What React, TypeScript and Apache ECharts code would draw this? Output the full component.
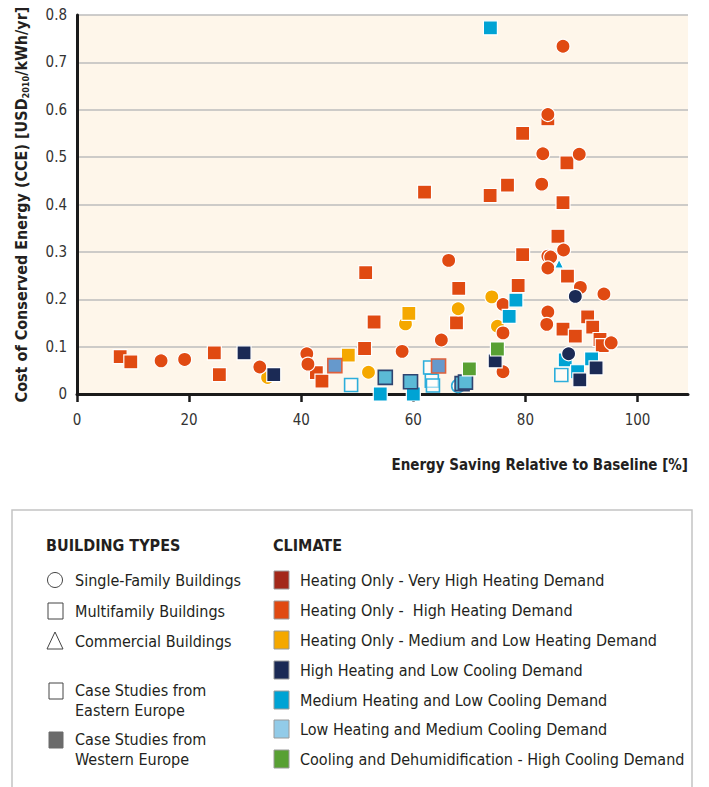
import React, { useEffect, useRef } from "react";
import * as echarts from "echarts";

const FONT = "'Liberation Sans Narrow', 'DejaVu Sans Condensed', 'Open Sans', sans-serif";

// ---- Data (x = energy saving %, y = CCE USD2010/kWh/yr) ----
const highHeatSquares: number[][] = [
  [7.7, 0.079], [9.6, 0.068], [24.5, 0.087], [25.4, 0.041], [42.7, 0.045], [43.7, 0.027],
  [51.3, 0.096], [51.5, 0.256], [53.0, 0.152], [62.0, 0.426], [73.7, 0.419], [76.8, 0.441],
  [67.7, 0.15], [68.1, 0.223], [79.5, 0.55], [84.0, 0.581], [87.4, 0.488], [86.7, 0.404],
  [85.8, 0.333], [79.5, 0.294], [87.5, 0.249], [78.7, 0.229], [86.7, 0.137], [91.1, 0.163],
  [88.9, 0.122], [92.0, 0.141], [93.3, 0.115], [93.7, 0.102],
];
const highHeatCircles: number[][] = [
  [15.0, 0.07], [19.2, 0.073], [32.6, 0.057], [41.0, 0.085], [41.2, 0.063], [58.0, 0.09],
  [65.0, 0.114], [66.3, 0.282], [76.0, 0.189], [76.0, 0.129], [76.0, 0.047], [83.1, 0.507],
  [89.6, 0.506], [82.9, 0.443], [86.7, 0.734], [84.0, 0.59], [86.8, 0.304], [84.0, 0.291],
  [84.5, 0.289], [84.0, 0.266], [89.8, 0.225], [94.0, 0.211], [84.0, 0.173], [83.8, 0.147],
  [95.3, 0.108],
];
const medLowCircles: number[][] = [
  [34.0, 0.035], [52.0, 0.046], [58.6, 0.148], [68.0, 0.18], [74.0, 0.205], [75.0, 0.143],
];
const medLowSquares: number[][] = [[48.4, 0.082], [59.2, 0.17]];
const navySquares: number[][] = [[29.8, 0.087], [35.1, 0.041], [74.6, 0.07], [89.7, 0.03], [92.6, 0.055]];
const navyCircles: number[][] = [[88.9, 0.206], [87.7, 0.085]];
const cyanSquares: number[][] = [
  [73.75, 0.773], [78.3, 0.198], [77.1, 0.164], [54.1, 0.0], [60.0, 0.0], [87.1, 0.072],
  [89.3, 0.047], [91.8, 0.074],
];
const cyanTriangles: number[][] = [[86.0, 0.275]];
const greenSquares: number[][] = [[75.0, 0.095], [70.0, 0.053]];
const lightBlueSquares: number[][] = [[55.0, 0.035], [59.5, 0.026], [68.7, 0.022], [69.3, 0.025]];
const steelBlueSquares: number[][] = [[46.0, 0.06], [64.5, 0.059]];
const easternSquares: number[][] = [[48.9, 0.019], [63.0, 0.056], [63.3, 0.028], [63.5, 0.018], [86.4, 0.04]];
const easternCircles: number[][] = [[68.0, 0.017]];

const xTicks = [0, 20, 40, 60, 80, 100];

const buildingTypes = ["Single-Family Buildings", "Multifamily Buildings", "Commercial Buildings"];
const caseStudies = [["Case Studies from", "Eastern Europe"], ["Case Studies from", "Western Europe"]];
const climates = [
  "Heating Only - Very High Heating Demand",
  "Heating Only -  High Heating Demand",
  "Heating Only - Medium and Low Heating Demand",
  "High Heating and Low Cooling Demand",
  "Medium Heating and Low Cooling Demand",
  "Low Heating and Medium Cooling Demand",
  "Cooling and Dehumidification - High Cooling Demand",
];
const climateColors = ["#A3281A", "#E04A12", "#F5A800", "#1B2A55", "#00A3D4", "#92CBE8", "#58A033"];

function sc(name: string, data: number[][], symbol: string, size: number, color: string, border = "#ffffff", bw = 1.2) {
  return {
    type: "scatter",
    name,
    data,
    symbol,
    symbolSize: size,
    itemStyle: { color, borderColor: border, borderWidth: bw, opacity: 1 },
    emphasis: { disabled: true },
  };
}

export default function App() {
  const ref = useRef<HTMLDivElement>(null);
  useEffect(() => {
    if (!ref.current) return;
    const chart = echarts.init(ref.current, undefined, { renderer: "svg" });
    const textColor = "#231F20";

    const graphics: any[] = [
      {
        type: "text",
        right: 21,
        top: 457,
        style: { text: "Energy Saving Relative to Baseline [%]", font: `bold 15px ${FONT}`, fill: textColor },
      },
      {
        type: "rect",
        shape: { x: 12, y: 510, width: 680, height: 300 },
        style: { fill: "#ffffff", stroke: "#C4C4C4", lineWidth: 1.5 },
        z: 0,
      },
      { type: "text", x: 46, y: 537, style: { text: "BUILDING TYPES", font: `bold 16px ${FONT}`, fill: textColor } },
      { type: "text", x: 273, y: 537, style: { text: "CLIMATE", font: `bold 16px ${FONT}`, fill: textColor } },
    ];
    const btY = [580, 611, 641];
    graphics.push({ type: "circle", shape: { cx: 55, cy: btY[0], r: 7.5 }, style: { fill: "#fff", stroke: "#444", lineWidth: 1 } });
    graphics.push({ type: "rect", shape: { x: 48, y: btY[1] - 8, width: 15, height: 16 }, style: { fill: "#fff", stroke: "#444", lineWidth: 1 } });
    graphics.push({
      type: "polygon",
      shape: { points: [[55, btY[2] - 9], [63, btY[2] + 8], [47, btY[2] + 8]] },
      style: { fill: "#fff", stroke: "#444", lineWidth: 1 },
    });
    buildingTypes.forEach((t, i) => {
      graphics.push({ type: "text", x: 75, y: btY[i], style: { text: t, font: `16px ${FONT}`, fill: textColor, verticalAlign: "middle" } });
    });
    const csY = [690, 739];
    graphics.push({ type: "rect", shape: { x: 49, y: csY[0] - 7, width: 14, height: 16 }, style: { fill: "#fff", stroke: "#444", lineWidth: 1 } });
    graphics.push({ type: "rect", shape: { x: 49, y: csY[1] - 7, width: 14, height: 16 }, style: { fill: "#6B6B6B", stroke: "#6B6B6B", lineWidth: 1 } });
    caseStudies.forEach((lines, i) => {
      lines.forEach((l, j) => {
        graphics.push({ type: "text", x: 75, y: csY[i] + j * 20, style: { text: l, font: `16px ${FONT}`, fill: textColor, verticalAlign: "middle" } });
      });
    });
    const clY = [580, 610, 640, 670, 700, 729, 759];
    climates.forEach((t, i) => {
      graphics.push({
        type: "rect",
        shape: { x: 274, y: clY[i] - 9, width: 15, height: 18 },
        style: { fill: climateColors[i], stroke: "#9A9A9A", lineWidth: 1 },
      });
      graphics.push({ type: "text", x: 300, y: clY[i], style: { text: t, font: `16px ${FONT}`, fill: textColor, verticalAlign: "middle" } });
    });

    chart.setOption({
      animation: false,
      grid: {
        left: 77,
        right: 21,
        top: 15,
        bottom: 393,
        show: true,
        backgroundColor: "#FEF6EA",
        borderWidth: 0,
      },
      xAxis: {
        type: "value",
        min: 0,
        max: 109,
        interval: 20,
        axisLine: { show: true, onZero: false, lineStyle: { color: "#1A1A1A", width: 3 } },
        axisTick: { show: true, length: 8, customValues: xTicks, lineStyle: { color: "#1A1A1A", width: 2.5 } },
        axisLabel: { customValues: xTicks, fontSize: 15, color: "#333", margin: 18, fontFamily: FONT },
        splitLine: { show: false },
      },
      yAxis: {
        type: "value",
        min: 0,
        max: 0.8,
        interval: 0.1,
        name: "{a|Cost of Conserved Energy (CCE) [USD}{s|2010}{a|/kWh/yr]}",
        nameLocation: "middle",
        nameGap: 47,
        nameRotate: 90,
        nameTextStyle: {
          rich: {
            a: { fontSize: 16, fontWeight: "bold", fontFamily: FONT, color: textColor },
            s: { fontSize: 9, fontWeight: "bold", fontFamily: FONT, color: textColor, verticalAlign: "bottom", padding: [8, 0, 0, 0] },
          },
        },
        axisLine: { show: true, lineStyle: { color: "#1A1A1A", width: 3 } },
        axisTick: { show: false },
        axisLabel: { fontSize: 15, color: "#333", margin: 10, fontFamily: FONT },
        splitLine: { show: true, lineStyle: { color: "#BDBDBD", width: 1.5 } },
      },
      graphic: graphics,
      series: [
        sc("Eastern Europe", easternSquares, "rect", 13, "rgba(255,255,255,0.55)", "#2DAEDB", 1.6),
        sc("Eastern Europe SF", easternCircles, "circle", 13, "rgba(255,255,255,0.4)", "#2DAEDB", 1.6),
        sc("High heating MF", highHeatSquares, "rect", 14, "#E04A12"),
        sc("Med/low heating SF", medLowCircles, "circle", 14, "#F5A800"),
        sc("Med/low heating MF", medLowSquares, "rect", 14, "#F5A800"),
        sc("High heating SF", highHeatCircles, "circle", 14, "#E04A12"),
        sc("Medium heating MF", cyanSquares, "rect", 14, "#00A3D4"),
        sc("Medium heating C", cyanTriangles, "triangle", 9, "#00A3D4"),
        sc("Low heating MF", lightBlueSquares, "rect", 14, "#5BBAD6", "#2F4470", 1.6),
        sc("Steel blue", steelBlueSquares, "rect", 14, "#6699CC", "#E0603A", 1.6),
        sc("High heating low cooling MF", navySquares, "rect", 14, "#1B2A55"),
        sc("High heating low cooling SF", navyCircles, "circle", 14, "#1B2A55"),
        sc("Cooling MF", greenSquares, "rect", 14, "#58A033"),
      ],
    });
    return () => chart.dispose();
  }, []);
  return <div ref={ref} style={{ position: "fixed", left: 0, top: 0, width: 709, height: 787, background: "#fff" }} />;
}
